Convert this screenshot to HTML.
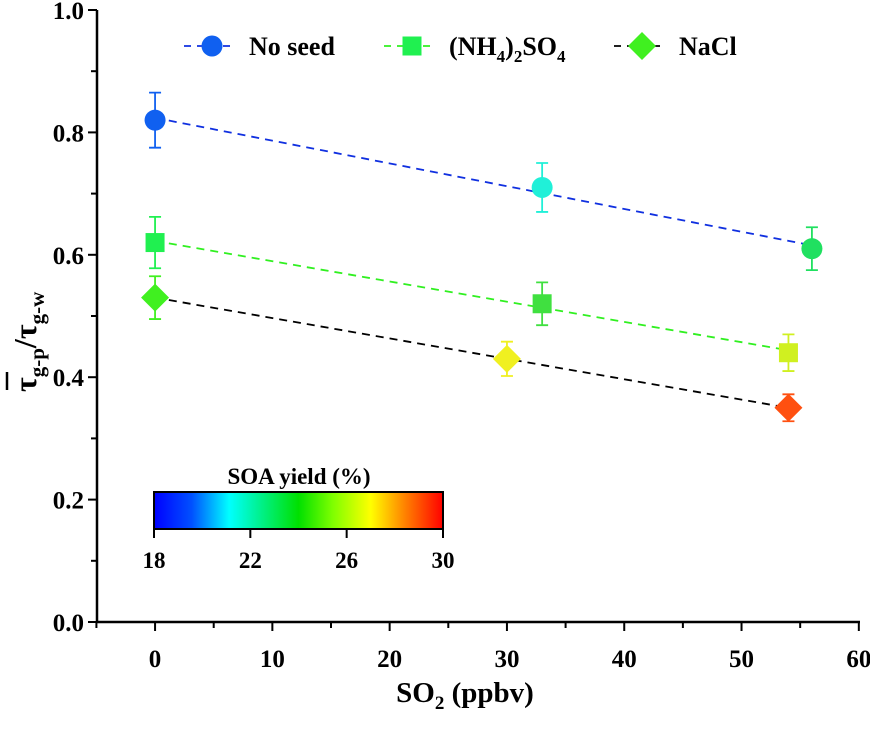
<!DOCTYPE html>
<html><head><meta charset="utf-8"><style>
body{margin:0;background:#fff}
svg text{font-family:"Liberation Serif","DejaVu Serif",serif;font-weight:bold}
</style></head><body>
<svg id="c" width="870" height="724">
<defs><linearGradient id="jet" x1="0" x2="1" y1="0" y2="0">
<stop offset="0" stop-color="#0000ff"/><stop offset="0.13" stop-color="#0050ff"/><stop offset="0.26" stop-color="#00ffff"/><stop offset="0.5" stop-color="#00e000"/><stop offset="0.62" stop-color="#80ff00"/><stop offset="0.75" stop-color="#ffff00"/><stop offset="0.87" stop-color="#ff8000"/><stop offset="1" stop-color="#ff0000"/>
</linearGradient></defs>
</svg>
<script>
const xTicks=[0,10,20,30,40,50,60];
const yTicks=[0.0,0.2,0.4,0.6,0.8,1.0];
const seriesNames=["No seed","(NH4)2SO4","NaCl"];
const noSeedX=[0,33,56], noSeedY=[0.82,0.71,0.61], noSeedErr=[0.045,0.04,0.035];
const nhX=[0,33,54], nhY=[0.62,0.52,0.44], nhErr=[0.042,0.035,0.03];
const naclX=[0,30,54], naclY=[0.53,0.43,0.35], naclErr=[0.035,0.028,0.022];
const noSeedColors=["#1060f0","#20f0d8","#20e060"];
const nhColors=["#20f050","#40e040","#d0f020"];
const naclColors=["#40f020","#f0f020","#ff5010"];
const cbTicks=[18,22,26,30];

const svg=document.getElementById('c');
const NS='http://www.w3.org/2000/svg';
const FF='"Liberation Serif","DejaVu Serif",serif';
const X0=97,X1=860,Y0=622,Y1=10,xmin=-4.95,xmax=60.1;
const sx=v=>X0+(v-xmin)/(xmax-xmin)*(X1-X0);
const sy=v=>Y0-(v-0)/(1.0)*(Y0-Y1);
function mk(t,a,p){const e=document.createElementNS(NS,t);for(const k in a)e.setAttribute(k,a[k]);if(t==='text'){e.setAttribute('font-family',FF);e.setAttribute('font-weight','bold');}(p||svg).appendChild(e);return e;}

const ax=mk('path',{d:`M${X0},${Y1}V${Y0}H${X1}`,fill:'none',stroke:'#000','stroke-width':2.5});


for(let i=0;i<xTicks.length;i++){
  const v=xTicks[i];
  mk('line',{x1:sx(v),x2:sx(v),y1:Y0,y2:Y0+9,stroke:'#000','stroke-width':2});
  mk('line',{x1:sx(v-5),x2:sx(v-5),y1:Y0,y2:Y0+6,stroke:'#000','stroke-width':2});
  const t=mk('text',{x:sx(v),y:Y0+45,'text-anchor':'middle','font-size':25});
  t.textContent=v;
  
  
}
for(let i=0;i<yTicks.length;i++){
  const v=yTicks[i];
  mk('line',{x1:X0-9,x2:X0,y1:sy(v),y2:sy(v),stroke:'#000','stroke-width':2});
  if(v<1)mk('line',{x1:X0-6,x2:X0,y1:sy(v+0.1),y2:sy(v+0.1),stroke:'#000','stroke-width':2});
  const t=mk('text',{x:X0-13,y:sy(v)+9,'text-anchor':'end','font-size':25});
  t.textContent=v.toFixed(1);
  
  
}
const xt=mk('text',{x:465,y:702,'text-anchor':'middle','font-size':29});
xt.innerHTML='SO<tspan font-size="19" dy="7">2</tspan><tspan dy="-7"> (ppbv)</tspan>';


const yt=mk('text',{transform:'translate(36,392) rotate(-90)','text-anchor':'start','font-size':32});
yt.innerHTML='τ<tspan font-size="21" dy="8">g-p</tspan><tspan dy="-8">/τ</tspan><tspan font-size="21" dy="8">g-w</tspan>';


mk('line',{x1:7,x2:7,y1:372,y2:390,stroke:'#000','stroke-width':2.5});

function fit(xs,ys){const n=xs.length;let mx=0,my=0;for(let i=0;i<n;i++){mx+=xs[i];my+=ys[i];}mx/=n;my/=n;let a=0,b=0;for(let i=0;i<n;i++){a+=(xs[i]-mx)*(ys[i]-my);b+=(xs[i]-mx)**2;}const s=a/b;return [s,my-s*mx];}
function marker(shape,x,y,col){
  let e;
  if(shape==='circle')e=mk('circle',{cx:x,cy:y,r:10.5,fill:col});
  else if(shape==='square')e=mk('rect',{x:x-9.5,y:y-9.5,width:19,height:19,fill:col});
  else e=mk('polygon',{points:`${x},${y-14} ${x+14},${y} ${x},${y+14} ${x-14},${y}`,fill:col});
  return e;
}
function series(xs,ys,errs,cols,lineCol,shape,name){
  const [s,b]=fit(xs,ys);
  const xa=xs[0],xb=xs[xs.length-1];
  const l=mk('line',{x1:sx(xa),y1:sy(s*xa+b),x2:sx(xb),y2:sy(s*xb+b),stroke:lineCol,'stroke-width':1.8,'stroke-dasharray':'8,6'});
  
  
  for(let i=0;i<xs.length;i++){
    const x=sx(xs[i]),y=sy(ys[i]),c=cols[i];
    const eb=mk('path',{d:`M${x},${sy(ys[i]-errs[i])}V${sy(ys[i]+errs[i])}M${x-6},${sy(ys[i]+errs[i])}H${x+6}M${x-6},${sy(ys[i]-errs[i])}H${x+6}`,stroke:c,'stroke-width':1.8,fill:'none'});
    
    
    const m=marker(shape,x,y,c);
    
    
  }
}
series(noSeedX,noSeedY,noSeedErr,noSeedColors,'#1030e0','circle','no-seed');
series(nhX,nhY,nhErr,nhColors,'#30f020','square','nh4-2so4');
series(naclX,naclY,naclErr,naclColors,'#000','diamond','nacl');

function legend(x,lineCol,shape,col,label,name){
  const g=mk('g',{});
  
  
  mk('line',{x1:x,x2:x+50,y1:46,y2:46,stroke:lineCol,'stroke-width':1.8,'stroke-dasharray':'7,6'},g);
  const m=marker(shape,x+28,46,col);g.appendChild(m);
  const t=mk('text',{x:x+65,y:55,'font-size':26},g);t.innerHTML=label;
}
legend(184,'#1030e0','circle','#1060f0','No seed','no-seed');
legend(384,'#30f020','square','#20f050','(NH<tspan font-size="17" dy="7">4</tspan><tspan dy="-7">)</tspan><tspan font-size="17" dy="7">2</tspan><tspan dy="-7">SO</tspan><tspan font-size="17" dy="7">4</tspan>','nh4-2so4');
legend(614,'#000','diamond','#40f020','NaCl','nacl');

const CB0=154,CB1=443;
const cb=mk('rect',{x:CB0,y:492,width:CB1-CB0,height:37,fill:'url(#jet)',stroke:'#000','stroke-width':2});


const ct=mk('text',{x:299,y:484,'text-anchor':'middle','font-size':23});ct.textContent='SOA yield (%)';


for(let i=0;i<cbTicks.length;i++){
  const x=CB0+(cbTicks[i]-18)/12*(CB1-CB0);
  mk('line',{x1:x,x2:x,y1:529,y2:538,stroke:'#000','stroke-width':2});
  const t=mk('text',{x:x,y:568,'text-anchor':'middle','font-size':23});t.textContent=cbTicks[i];
  
  
}
</script>
</body></html>
